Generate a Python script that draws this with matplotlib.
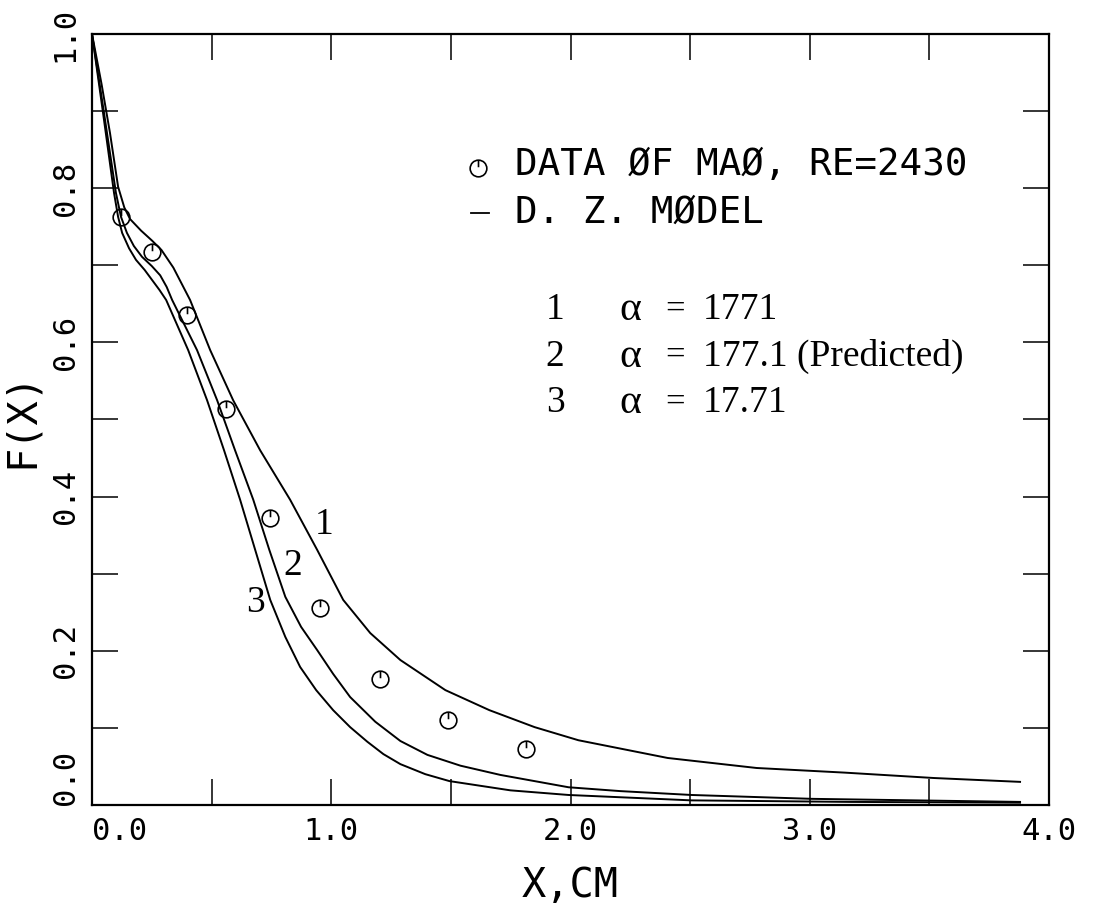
import numpy as np
import matplotlib
matplotlib.use("Agg")
import matplotlib.pyplot as plt
from matplotlib.path import Path
from matplotlib.lines import Line2D
from matplotlib.ticker import MultipleLocator

W, H = 1093, 905
MONO = 'DejaVu Sans Mono'
SERIF = 'Liberation Serif'

# data of Mao, Re = 2430
x_mao = [0.121, 0.251, 0.397, 0.561, 0.745, 0.954, 1.205, 1.490, 1.812]
f_mao = [0.763, 0.717, 0.636, 0.514, 0.372, 0.255, 0.163, 0.110, 0.073]

# D. Z. model, curve 1 (alpha = 1771)
x1 = [0.0, 0.040, 0.075, 0.109, 0.135, 0.159, 0.205, 0.251, 0.290, 0.340,
      0.410, 0.494, 0.590, 0.703, 0.828, 0.941, 1.050, 1.163, 1.289, 1.477,
      1.661, 1.850, 2.033, 2.406, 2.778, 3.146, 3.519, 3.879]
f1 = [1.0, 0.935, 0.872, 0.802, 0.775, 0.760, 0.745, 0.732, 0.720, 0.697,
      0.655, 0.590, 0.525, 0.460, 0.396, 0.331, 0.266, 0.223, 0.188, 0.149,
      0.123, 0.101, 0.084, 0.061, 0.048, 0.042, 0.035, 0.030]

# curve 2 (alpha = 177.1, predicted)
x2 = [0.0, 0.050, 0.100, 0.121, 0.146, 0.175, 0.209, 0.250, 0.285, 0.312,
      0.335, 0.439, 0.523, 0.598, 0.674, 0.741, 0.808, 0.874, 0.941, 1.008,
      1.079, 1.184, 1.289, 1.402, 1.540, 1.707, 1.992, 2.209, 2.506, 3.008,
      3.879]
f2 = [1.0, 0.898, 0.794, 0.763, 0.742, 0.725, 0.711, 0.699, 0.687, 0.672,
      0.655, 0.590, 0.525, 0.460, 0.396, 0.331, 0.270, 0.231, 0.201, 0.170,
      0.140, 0.108, 0.083, 0.065, 0.051, 0.039, 0.023, 0.018, 0.013, 0.008,
      0.004]

# curve 3 (alpha = 17.71)
x3 = [0.0, 0.046, 0.092, 0.109, 0.126, 0.155, 0.184, 0.220, 0.251, 0.282,
      0.310, 0.402, 0.481, 0.552, 0.619, 0.682, 0.745, 0.808, 0.870, 0.937,
      1.008, 1.079, 1.151, 1.218, 1.289, 1.393, 1.494, 1.749, 1.992, 2.506,
      3.172, 3.879]
f3 = [1.0, 0.898, 0.794, 0.763, 0.742, 0.722, 0.707, 0.694, 0.681, 0.668,
      0.655, 0.590, 0.525, 0.460, 0.396, 0.331, 0.266, 0.218, 0.179, 0.149,
      0.123, 0.101, 0.082, 0.066, 0.053, 0.040, 0.031, 0.019, 0.013, 0.006,
      0.004, 0.003]

curve_ids = ['1', '2', '3']
alpha_vals = ['1771', '177.1', '17.71']
x_ticks = [0.0, 1.0, 2.0, 3.0, 4.0]
y_ticks = [0.0, 0.2, 0.4, 0.6, 0.8, 1.0]


def fxy(x, y):
    # pixel position -> figure fraction
    return x / W, 1 - y / H


# circle with a short stem, like the plotter symbol
stem = Path([(0, 1), (0, 0.15)], [Path.MOVETO, Path.LINETO])
mao_marker = Path.make_compound_path(Path.unit_circle(), stem)

fig = plt.figure(figsize=(W / 100, H / 100), dpi=100)
ax = fig.add_axes([92 / W, 1 - 805 / H, (1049 - 92) / W, (805 - 34) / H])

for xs, fs in [(x1, f1), (x2, f2), (x3, f3)]:
    ax.plot(xs, fs, color='black', lw=1.4, solid_joinstyle='round')

ax.plot(x_mao, f_mao, ls='none', marker=mao_marker, ms=12,
        mfc='none', mec='black', mew=1.2)

ax.set_xlim(0, 4.0)
ax.set_ylim(0, 1.0)
ax.set_xticks(x_ticks)
ax.set_yticks(y_ticks)
ax.set_xticklabels(['%.1f' % v for v in x_ticks], fontfamily=MONO, fontsize=22)
ax.set_yticklabels(['%.1f' % v for v in y_ticks], fontfamily=MONO, fontsize=22,
                   rotation=90, va='center')
ax.xaxis.set_minor_locator(MultipleLocator(0.5))
ax.yaxis.set_minor_locator(MultipleLocator(0.1))
ax.tick_params(which='both', direction='in', length=19, width=1.1,
               top=True, right=True)
ax.tick_params(axis='x', pad=9)
ax.tick_params(axis='y', pad=9)
ax.get_xticklabels()[0].set_horizontalalignment('left')
ax.get_yticklabels()[0].set_verticalalignment('bottom')
for sp in ax.spines.values():
    sp.set_linewidth(1.6)

ax.set_xlabel('X,CM', fontfamily=MONO, fontsize=29, labelpad=14)
ax.set_ylabel('F(X)', fontfamily=MONO, fontsize=29, labelpad=6)

# curve numbers
for s, (px, py) in zip(curve_ids, [(324, 525), (293, 566), (255, 603)]):
    fig.text(*fxy(px, py), s, fontfamily=SERIF, fontsize=27,
             ha='center', va='center')

# key
fig.add_artist(Line2D([fxy(478, 168)[0]], [fxy(478, 168)[1]], ls='none',
                      marker=mao_marker, ms=12, mfc='none', mec='black',
                      mew=1.2, transform=fig.transFigure))
fig.text(*fxy(515, 165), 'DATA ØF MAØ, RE=2430', fontfamily=MONO,
         fontsize=27, ha='left', va='center')
fig.add_artist(Line2D([471 / W, 489 / W], [1 - 213 / H, 1 - 213 / H],
                      color='black', lw=1.3, transform=fig.transFigure))
fig.text(*fxy(515, 213), 'D. Z. MØDEL', fontfamily=MONO,
         fontsize=27, ha='left', va='center')

for i, (cid, a) in enumerate(zip(curve_ids, alpha_vals)):
    yy = 310 + 46.5 * i
    fig.text(*fxy(555, yy), cid, fontfamily=SERIF, fontsize=27,
             ha='center', va='center')
    fig.text(*fxy(630, yy), 'α', fontfamily=SERIF, fontsize=30,
             ha='center', va='center')
    fig.text(*fxy(675, yy), '=', fontfamily=SERIF, fontsize=25,
             ha='center', va='center')
    label = a + ' (Predicted)' if i == 1 else a
    fig.text(*fxy(703, yy), label, fontfamily=SERIF, fontsize=27,
             ha='left', va='center')

fig.savefig('out.png', dpi=100)
